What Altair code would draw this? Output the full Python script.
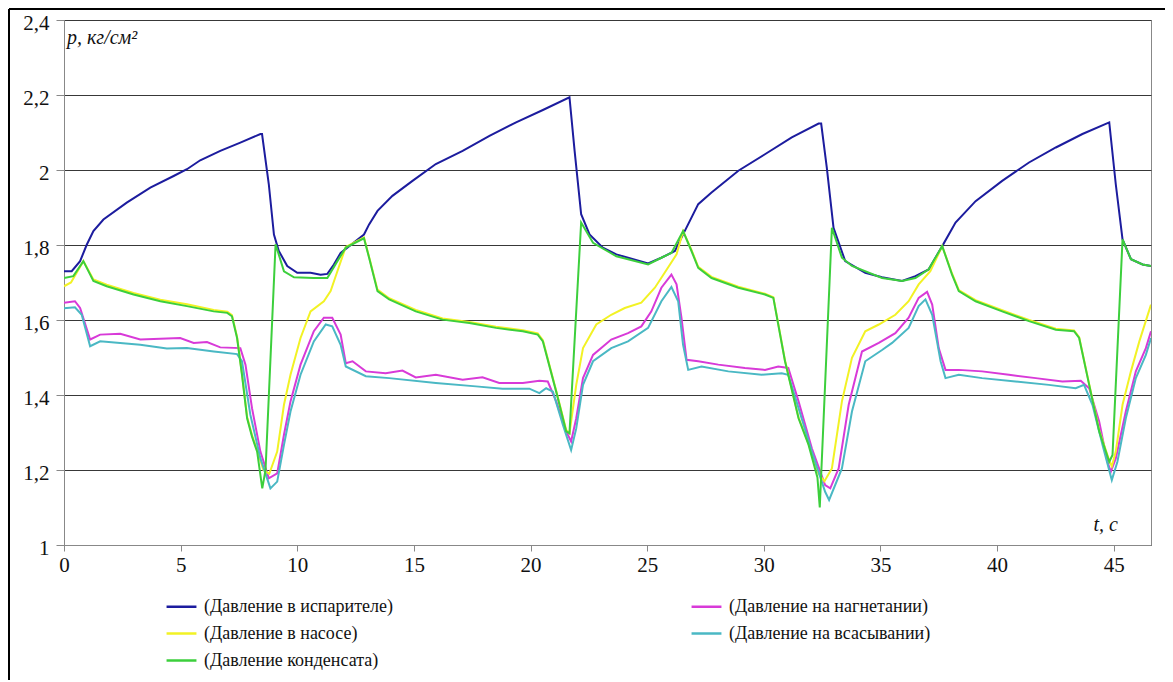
import altair as alt
import pandas as pd

# ---- data ----
series_names = [
    "(Давление в испарителе)",
    "(Давление на нагнетании)",
    "(Давление в насосе)",
    "(Давление на всасывании)",
    "(Давление конденсата)",
]
series_colors = ["#1c1c9e", "#d83ad8", "#f2f224", "#4ab8c4", "#3ccf3c"]
# legend reading order
legend_order = [0, 2, 4, 1, 3]

evap_t = [0.0, 0.33, 0.69, 0.97, 1.26, 1.69, 2.69, 3.70, 4.70, 5.27, 5.84, 6.70, 7.56, 8.42, 8.49,
          8.78, 9.00, 9.21, 9.57, 10.0, 10.57, 11.0, 11.29, 11.57, 11.86, 12.86, 13.08, 13.44, 14.08,
          14.94, 15.94, 17.09, 18.24, 19.38, 20.53, 21.67, 21.89, 22.17, 22.53, 23.10, 23.68, 24.18,
          25.04, 25.61, 26.19, 26.61, 27.19, 27.76, 28.91, 30.05, 31.20, 32.35, 32.46, 32.70, 32.99,
          33.49, 34.35, 35.07, 35.93, 36.50, 37.07, 37.65, 38.22, 39.08, 40.22, 41.37, 42.52, 43.66,
          44.81, 45.09, 45.38, 45.74, 46.24, 46.6]
evap_p = [1.73, 1.73, 1.757, 1.80, 1.837, 1.868, 1.913, 1.953, 1.984, 2.002, 2.026, 2.051, 2.073, 2.096, 2.096,
          1.962, 1.828, 1.784, 1.744, 1.726, 1.726, 1.721, 1.723, 1.748, 1.779, 1.828, 1.855, 1.891, 1.931,
          1.971, 2.016, 2.051, 2.091, 2.127, 2.160, 2.194, 2.051, 1.882, 1.828, 1.793, 1.775, 1.766,
          1.751, 1.766, 1.784, 1.837, 1.909, 1.940, 1.998, 2.042, 2.087, 2.124, 2.124, 2.007, 1.846,
          1.757, 1.726, 1.714, 1.704, 1.717, 1.735, 1.797, 1.860, 1.917, 1.971, 2.020, 2.060, 2.096,
          2.127, 1.962, 1.815, 1.762, 1.748, 1.744]

disch_t = [0.0, 0.47, 0.69, 1.12, 1.55, 2.41, 3.27, 4.13, 4.98, 5.56, 6.13, 6.70, 7.56, 7.78, 8.06, 8.42,
           8.78, 9.14, 9.43, 9.71, 10.14, 10.71, 11.14, 11.50, 11.86, 12.08, 12.37, 12.94, 13.79, 14.51,
           15.08, 15.94, 17.09, 17.94, 18.66, 19.67, 20.38, 20.74, 21.10, 21.53, 21.74, 21.96, 22.25,
           22.68, 23.46, 24.18, 24.75, 25.18, 25.61, 26.04, 26.26, 26.47, 26.69, 27.19, 28.05, 29.19,
           30.05, 30.62, 31.05, 31.49, 32.06, 32.63, 32.85, 33.21, 33.64, 34.21, 34.93, 35.64, 36.21,
           36.64, 37.0, 37.22, 37.5, 37.79, 38.36, 39.36, 40.51, 41.66, 42.8, 43.59, 43.95, 44.38,
           44.73, 44.88, 45.09, 45.52, 45.95, 46.38, 46.6]
disch_p = [1.646, 1.65, 1.632, 1.548, 1.561, 1.563, 1.548, 1.55, 1.552, 1.539, 1.541, 1.527, 1.525, 1.481, 1.365, 1.249,
           1.178, 1.191, 1.294, 1.383, 1.481, 1.57, 1.606, 1.606, 1.561, 1.485, 1.49, 1.463, 1.458, 1.465,
           1.447, 1.454, 1.441, 1.447, 1.432, 1.432, 1.438, 1.436, 1.383, 1.303, 1.276, 1.338, 1.445,
           1.507, 1.548, 1.565, 1.583, 1.623, 1.686, 1.721, 1.695, 1.606, 1.494, 1.49, 1.481, 1.472,
           1.467, 1.476, 1.472, 1.383, 1.258, 1.16, 1.151, 1.204, 1.374, 1.516, 1.539, 1.565, 1.606,
           1.659, 1.675, 1.641, 1.525, 1.467, 1.467, 1.463, 1.454, 1.445, 1.436, 1.438, 1.418, 1.329,
           1.222, 1.196, 1.231, 1.356, 1.463, 1.525, 1.57]

pump_t = [0.0, 0.3, 0.83, 1.26, 1.83, 2.98, 4.13, 5.27, 6.42, 7.0, 7.2, 7.42, 7.63, 7.85, 8.06, 8.28,
          8.55, 8.8, 9.14, 9.43, 9.71, 10.14, 10.57, 11.14, 11.43, 11.72, 12.08, 12.86, 13.08, 13.44,
          13.94, 15.08, 16.23, 17.38, 18.52, 19.67, 20.31, 20.53, 21.10, 21.53, 21.67, 21.96, 22.25,
          22.82, 23.46, 24.04, 24.75, 25.33, 25.75, 26.26, 26.54, 26.90, 27.19, 27.76, 28.91, 30.05,
          30.41, 30.91, 31.49, 31.92, 32.35, 32.6, 32.92, 33.35, 33.78, 34.35, 34.93, 35.64, 36.21,
          36.64, 37.14, 37.65, 38.07, 38.36, 39.08, 40.22, 41.37, 42.52, 43.30, 43.52, 43.95, 44.38,
          44.81, 44.92, 45.09, 45.38, 45.74, 46.10, 46.6]
pump_p = [1.69, 1.70, 1.757, 1.708, 1.694, 1.672, 1.654, 1.642, 1.627, 1.622, 1.613, 1.555, 1.457, 1.341, 1.293, 1.253,
          1.20, 1.19, 1.249, 1.374, 1.454, 1.552, 1.623, 1.65, 1.677, 1.73, 1.795, 1.82, 1.768, 1.681,
          1.658, 1.627, 1.604, 1.595, 1.582, 1.573, 1.564, 1.546, 1.411, 1.307, 1.298, 1.427, 1.525,
          1.588, 1.614, 1.632, 1.646, 1.686, 1.726, 1.775, 1.837, 1.787, 1.742, 1.715, 1.689, 1.67,
          1.661, 1.492, 1.34, 1.27, 1.19, 1.17, 1.204, 1.383, 1.499, 1.57, 1.588, 1.614, 1.65,
          1.695, 1.73, 1.797, 1.724, 1.68, 1.653, 1.626, 1.6, 1.577, 1.572, 1.554, 1.429, 1.306,
          1.225, 1.21, 1.249, 1.374, 1.463, 1.543, 1.641]

suct_t = [0.0, 0.47, 0.76, 1.12, 1.55, 3.27, 4.41, 5.27, 6.42, 7.42, 7.63, 7.99, 8.42, 8.85, 9.14, 9.43,
          9.71, 10.14, 10.71, 11.22, 11.50, 11.86, 12.08, 12.94, 13.94, 15.94, 17.66, 18.8, 19.95, 20.38,
          20.67, 20.96, 21.39, 21.74, 21.96, 22.25, 22.68, 23.46, 24.18, 25.04, 25.61, 26.04, 26.33,
          26.54, 26.76, 27.33, 28.48, 29.91, 30.77, 31.05, 31.49, 32.06, 32.63, 32.80, 33.35, 33.78,
          34.35, 35.07, 35.5, 36.21, 36.64, 36.93, 37.22, 37.58, 37.79, 38.36, 39.36, 40.79, 42.22,
          43.37, 43.73, 44.09, 44.52, 44.92, 45.16, 45.52, 45.95, 46.38, 46.6]
suct_p = [1.631, 1.634, 1.614, 1.53, 1.543, 1.534, 1.524, 1.525, 1.516, 1.509, 1.49, 1.347, 1.231, 1.151, 1.169, 1.267,
          1.356, 1.454, 1.543, 1.588, 1.583, 1.534, 1.476, 1.45, 1.445, 1.432, 1.423, 1.417, 1.417, 1.405,
          1.418, 1.409, 1.32, 1.253, 1.311, 1.427, 1.49, 1.525, 1.543, 1.579, 1.65, 1.688, 1.65,
          1.534, 1.467, 1.476, 1.463, 1.454, 1.458, 1.454, 1.365, 1.249, 1.142, 1.12, 1.204, 1.356,
          1.49, 1.52, 1.539, 1.579, 1.637, 1.655, 1.614, 1.49, 1.445, 1.454, 1.445, 1.436, 1.427,
          1.418, 1.427, 1.374, 1.267, 1.173, 1.222, 1.338, 1.445, 1.507, 1.552]

cond_t = [0.0, 0.40, 0.83, 1.26, 1.83, 2.98, 4.13, 5.27, 6.42, 7.0, 7.2, 7.42, 7.63, 7.85, 8.06, 8.28,
          8.50, 8.64, 9.07, 9.43, 9.86, 10.71, 11.29, 11.72, 12.08, 12.86, 13.08, 13.44, 13.94, 15.08,
          16.23, 17.38, 18.52, 19.67, 20.31, 20.53, 21.10, 21.53, 21.67, 22.17, 22.68, 23.68, 24.18,
          25.04, 25.61, 26.04, 26.54, 26.90, 27.19, 27.76, 28.91, 30.05, 30.41, 30.91, 31.49, 31.92,
          32.30, 32.40, 32.92, 33.35, 33.78, 35.07, 35.93, 36.50, 37.07, 37.65, 38.07, 38.36, 39.08,
          40.22, 41.37, 42.52, 43.30, 43.52, 43.95, 44.38, 44.81, 44.95, 45.38, 45.74, 46.24, 46.6]
cond_p = [1.712, 1.717, 1.757, 1.704, 1.69, 1.668, 1.65, 1.637, 1.623, 1.619, 1.61, 1.552, 1.454, 1.338, 1.289, 1.249,
          1.151, 1.20, 1.802, 1.73, 1.714, 1.712, 1.712, 1.757, 1.793, 1.818, 1.766, 1.677, 1.655, 1.623,
          1.601, 1.592, 1.579, 1.57, 1.561, 1.543, 1.409, 1.303, 1.298, 1.86, 1.806, 1.77, 1.762,
          1.748, 1.766, 1.779, 1.837, 1.784, 1.739, 1.712, 1.686, 1.668, 1.659, 1.49, 1.338, 1.267,
          1.18, 1.10, 1.846, 1.766, 1.744, 1.712, 1.704, 1.712, 1.735, 1.797, 1.721, 1.677, 1.65,
          1.623, 1.597, 1.574, 1.57, 1.552, 1.427, 1.303, 1.222, 1.24, 1.815, 1.762, 1.748, 1.744]

x_ticks = [0, 5, 10, 15, 20, 25, 30, 35, 40, 45]
y_ticks = [1.0, 1.2, 1.4, 1.6, 1.8, 2.0, 2.2, 2.4]
y_title = "p, кг/см²"
x_title = "t, с"

# ---- build table ----
frames = []
for name, ts, ps in [
    (series_names[0], evap_t, evap_p),
    (series_names[1], disch_t, disch_p),
    (series_names[2], pump_t, pump_p),
    (series_names[3], suct_t, suct_p),
    (series_names[4], cond_t, cond_p),
]:
    frames.append(pd.DataFrame({"t": ts, "p": ps, "series": name}))
df = pd.concat(frames, ignore_index=True)

W, H = 1087, 525
SERIF = "Liberation Serif"

dom = [series_names[i] for i in legend_order]
rng = [series_colors[i] for i in legend_order]

color = alt.Color(
    "series:N",
    sort=dom,
    scale=alt.Scale(domain=dom, range=rng),
    legend=alt.Legend(
        title=None,
        orient="none",
        legendX=103,
        legendY=572,
        columns=2,
        columnPadding=293,
        rowPadding=3,
        symbolType="M-1.15,0H1.15",
        symbolSize=676,
        symbolStrokeWidth=2.5,
        labelFont=SERIF,
        labelFontSize=18,
        labelColor="#111",
        labelLimit=500,
        labelOffset=8,
    ),
)

x_enc = alt.X(
    "t:Q",
    scale=alt.Scale(domain=[0, 46.6], nice=False, zero=False),
    axis=alt.Axis(
        values=x_ticks, title=None, grid=False,
        labelFont=SERIF, labelFontSize=21, labelColor="#111",
        domainColor="#888", tickColor="#888", tickSize=6, labelPadding=3,
        labelFlush=False,
    ),
)
y_enc = alt.Y(
    "p:Q",
    scale=alt.Scale(domain=[1.0, 2.4], nice=False, zero=False),
    axis=alt.Axis(
        values=y_ticks, title=None, grid=True, gridColor="#383838", gridWidth=1,
        labelExpr="replace(format(datum.value, '.1~f'), '.', ',')",
        labelFont=SERIF, labelFontSize=21, labelColor="#111",
        domainColor="#888", tickColor="#888", tickSize=8, labelPadding=7,
        labelOffset=3,
    ),
)

layers = []
for name in series_names:
    layers.append(
        alt.Chart(df)
        .transform_filter(alt.datum.series == name)
        .mark_line(strokeWidth=2, clip=True)
        .encode(x=x_enc, y=y_enc, color=color, order="t:Q")
    )

ann = pd.DataFrame({"ytxt": [y_title], "xtxt": [x_title]})
ytitle = alt.Chart(ann).mark_text(
    font=SERIF, fontSize=20, fontStyle="italic", align="left", baseline="alphabetic", color="#111"
).encode(x=alt.value(3), y=alt.value(24), text="ytxt:N")
xtitle = alt.Chart(ann).mark_text(
    font=SERIF, fontSize=20, fontStyle="italic", align="right", baseline="alphabetic", color="#111"
).encode(x=alt.value(1054), y=alt.value(511), text="xtxt:N")

frame_top = alt.Chart(ann).mark_rule(color="#000", strokeWidth=2, clip=False).encode(
    x=alt.value(-55), x2=alt.value(W + 14), y=alt.value(-11)
)
frame_left = alt.Chart(ann).mark_rule(color="#000", strokeWidth=2, clip=False).encode(
    x=alt.value(-55), y=alt.value(-11), y2=alt.value(H + 135)
)

chart = (
    alt.layer(*layers, ytitle, xtitle, frame_top, frame_left)
    .properties(
        width=W, height=H,
        autosize=alt.AutoSizeParams(type="none"),
        padding={"left": 56, "top": 12, "right": 14, "bottom": 135},
        background="white",
    )
    .configure(font=SERIF)
    .configure_view(stroke="#888", strokeWidth=1)
)

chart.save("out.html", embed_options={"renderer": "svg", "actions": False})
